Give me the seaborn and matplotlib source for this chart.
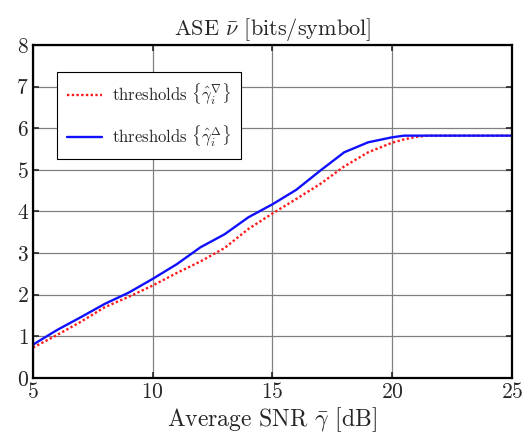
import pandas as pd
import matplotlib.pyplot as plt
import seaborn as sns

# values
snr_db = [5, 6, 7, 8, 9, 10, 11, 12, 13, 14, 15, 16, 17, 18, 19, 20, 20.5, 21, 21.5, 22, 23, 24, 25]
ase_down = [0.73, 1.03, 1.35, 1.70, 1.95, 2.22, 2.52, 2.80, 3.12, 3.58, 3.95, 4.30, 4.66, 5.08, 5.42, 5.65, 5.73, 5.79, 5.82, 5.82, 5.82, 5.82, 5.82]
ase_up = [0.80, 1.15, 1.46, 1.78, 2.05, 2.38, 2.73, 3.14, 3.45, 3.86, 4.17, 4.52, 4.98, 5.42, 5.66, 5.78, 5.82, 5.82, 5.82, 5.82, 5.82, 5.82, 5.82]

lab_down = r'thresholds $\{\hat{\gamma}_i^{\nabla}\}$'
lab_up = r'thresholds $\{\hat{\gamma}_i^{\Delta}\}$'

df = pd.DataFrame({
    'snr': snr_db * 2,
    'ase': ase_down + ase_up,
    'series': [lab_down] * len(snr_db) + [lab_up] * len(snr_db),
})

sns.set_style('ticks')
plt.rcParams['font.family'] = ['serif']
plt.rcParams['font.serif'] = ['cmr10', 'DejaVu Serif']
plt.rcParams['mathtext.fontset'] = 'cm'
plt.rcParams['axes.formatter.use_mathtext'] = True

fig = plt.figure(figsize=(5.32, 4.4), dpi=100)
ax = fig.add_axes([0.062, 0.141, 0.9, 0.757])

sns.lineplot(data=df, x='snr', y='ase', hue='series', style='series',
             palette={lab_down: '#ff1a1a', lab_up: '#1010ff'},
             dashes={lab_down: (1, 1), lab_up: ''},
             linewidth=1.7, ax=ax)

ax.set_xlim(5, 25)
ax.set_ylim(0, 8)
ax.set_xticks([5, 10, 15, 20, 25])
ax.set_yticks(range(9))
ax.grid(True, color='#808080', linewidth=0.9)
ax.tick_params(direction='in', top=True, right=True, labelsize=15.5, length=4, width=1.2, pad=3)
for s in ax.spines.values():
    s.set_linewidth(1.6)
    s.set_color('black')

ax.set_title(r'ASE $\bar{\nu}$ [bits/symbol]', fontsize=16, pad=7)
ax.set_xlabel(r'Average SNR $\bar{\gamma}$ [dB]', fontsize=17, labelpad=2)
ax.set_ylabel('')

leg = ax.legend(loc='upper left', bbox_to_anchor=(0.05, 0.919), fontsize=12,
                frameon=True, fancybox=False, edgecolor='black', framealpha=1,
                handlelength=2.1, labelspacing=1.0, borderpad=0.6, handletextpad=0.6,
                borderaxespad=0)
leg.get_frame().set_linewidth(0.8)

fig.savefig('out.png', dpi=100)
